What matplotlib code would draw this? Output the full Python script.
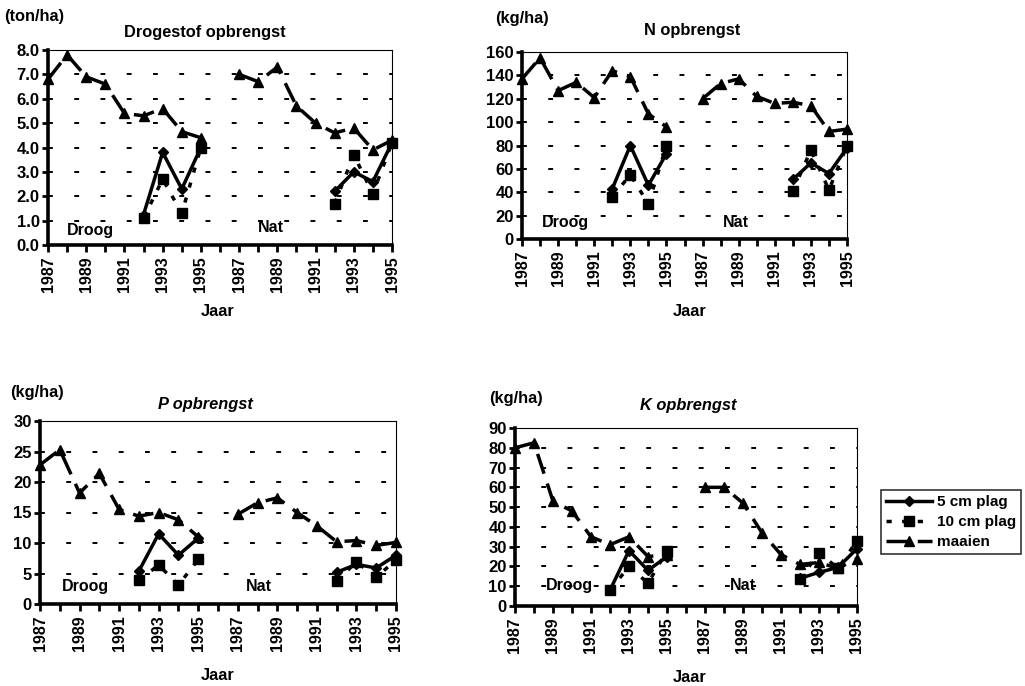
import numpy as np
import matplotlib
matplotlib.use('Agg')
import matplotlib.pyplot as plt
from matplotlib.lines import Line2D

plt.rcParams['font.family'] = ['Liberation Sans', 'DejaVu Sans']
plt.rcParams['font.weight'] = 'bold'

nan = np.nan
jaren = ['1987', '1988', '1989', '1990', '1991', '1992', '1993', '1994', '1995']

# droge stof (ton/ha)
ds_droog_maaien = [6.8, 7.8, 6.9, 6.6, 5.4, 5.3, 5.6, 4.65, 4.4]
ds_droog_5cm = [nan, nan, nan, nan, nan, 1.25, 3.8, 2.3, 4.0]
ds_droog_10cm = [nan, nan, nan, nan, nan, 1.1, 2.7, 1.3, 4.0]
ds_nat_maaien = [7.0, 6.7, 7.3, 5.7, 5.0, 4.6, 4.8, 3.9, 4.3]
ds_nat_5cm = [nan, nan, nan, nan, nan, 2.2, 3.0, 2.6, 4.2]
ds_nat_10cm = [nan, nan, nan, nan, nan, 1.7, 3.7, 2.1, 4.2]

# stikstof (kg/ha)
n_droog_maaien = [137, 155, 127, 134, 121, 144, 139, 107, 96]
n_droog_5cm = [nan, nan, nan, nan, nan, 43, 80, 46, 73]
n_droog_10cm = [nan, nan, nan, nan, nan, 36, 55, 30, 80]
n_nat_maaien = [120, 133, 137, 122, 116, 117, 114, 92, 94]
n_nat_5cm = [nan, nan, nan, nan, nan, 51, 65, 56, 78]
n_nat_10cm = [nan, nan, nan, nan, nan, 41, 76, 42, 80]

# fosfor (kg/ha)
p_droog_maaien = [22.8, 25.3, 18.2, 21.4, 15.5, 14.4, 15.0, 13.8, 11.0]
p_droog_5cm = [nan, nan, nan, nan, nan, 5.4, 11.5, 8.0, 10.8]
p_droog_10cm = [nan, nan, nan, nan, nan, 3.9, 6.4, 3.1, 7.3]
p_nat_maaien = [14.7, 16.6, 17.4, 15.0, 12.8, 10.2, 10.4, 9.6, 10.1]
p_nat_5cm = [nan, nan, nan, nan, nan, 5.2, 6.5, 5.9, 8.0]
p_nat_10cm = [nan, nan, nan, nan, nan, 3.8, 6.9, 4.4, 7.2]

# kalium (kg/ha)
k_droog_maaien = [80, 82.5, 53, 48, 35, 31, 35, 25, 26]
k_droog_5cm = [nan, nan, nan, nan, nan, 8, 28, 18, 25]
k_droog_10cm = [nan, nan, nan, nan, nan, 8, 20, 11.5, 28]
k_nat_maaien = [60, 60, 52, 37, 26, 21, 22, 19, 24]
k_nat_5cm = [nan, nan, nan, nan, nan, 14, 17, 19.5, 29]
k_nat_10cm = [nan, nan, nan, nan, nan, 13.5, 27, 19, 33]

W, H = 1025, 686
fig = plt.figure(figsize=(W / 100, H / 100), dpi=100)


def px_axes(l, t, r, b):
    return fig.add_axes([l / W, 1 - b / H, (r - l) / W, (b - t) / H])


def ftext(x, y, s, **kw):
    fig.text(x / W, 1 - y / H, s, ha='center', va='center', **kw)


# Droog 1987-1995, lege plek, Nat 1987-1995
labels = jaren + [''] + jaren
xpos = np.arange(len(labels))


def join(droog, nat):
    return np.array(list(droog) + [nan] + list(nat), dtype=float)


def paneel(ax, maaien, plag5, plag10, ymax, ystep, fmt, droog_xy, nat_xy):
    ax.plot(xpos, plag5, color='black', lw=2.5, marker='D', ms=5.5,
            clip_on=False, zorder=4)
    ax.plot(xpos, plag10, color='black', lw=2.5, ls=(0, (1.5, 3)), marker='s',
            ms=7, clip_on=False, zorder=4)
    ax.plot(xpos, maaien, color='black', lw=2.5, ls=(0, (6, 3)), marker='^',
            ms=7.5, clip_on=False, zorder=4)
    ax.set_xlim(0, len(labels) - 1)
    ax.set_ylim(0, ymax)
    ticks = np.arange(0, ymax + ystep / 2, ystep)
    ax.set_yticks(ticks)
    ax.set_yticklabels([fmt % t for t in ticks], fontsize=12, fontweight='bold')
    ax.set_xticks(xpos)
    ax.set_xticklabels([l if i % 2 == 0 else '' for i, l in enumerate(labels)],
                       rotation=90, fontsize=11.5, fontweight='bold')
    ax.yaxis.grid(True, color='black', lw=1.4, ls=(0, (2.5, 11)))
    ax.set_axisbelow(True)
    for s in ['left', 'bottom']:
        ax.spines[s].set_linewidth(2.6)
    for s in ['top', 'right']:
        ax.spines[s].set_linewidth(0.8)
    ax.tick_params(axis='y', length=4, width=2, pad=2)
    ax.tick_params(axis='x', length=5, width=2, pad=3)
    ax.text(droog_xy[0], droog_xy[1], 'Droog', fontsize=11.5, fontweight='bold',
            va='center')
    ax.text(nat_xy[0], nat_xy[1], 'Nat', fontsize=11.5, fontweight='bold',
            va='center')


ax1 = px_axes(48, 50, 392, 245)
paneel(ax1, join(ds_droog_maaien, ds_nat_maaien), join(ds_droog_5cm, ds_nat_5cm),
       join(ds_droog_10cm, ds_nat_10cm), 8.0, 1.0, '%.1f', (1.0, 0.6), (11.0, 0.7))

ax2 = px_axes(522, 52, 847, 239)
paneel(ax2, join(n_droog_maaien, n_nat_maaien), join(n_droog_5cm, n_nat_5cm),
       join(n_droog_10cm, n_nat_10cm), 160, 20, '%d', (1.1, 14), (11.1, 14))

ax3 = px_axes(40, 421, 396, 604)
paneel(ax3, join(p_droog_maaien, p_nat_maaien), join(p_droog_5cm, p_nat_5cm),
       join(p_droog_10cm, p_nat_10cm), 30, 5, '%d', (1.1, 2.8), (10.4, 2.8))

ax4 = px_axes(515, 428, 857, 606)
paneel(ax4, join(k_droog_maaien, k_nat_maaien), join(k_droog_5cm, k_nat_5cm),
       join(k_droog_10cm, k_nat_10cm), 90, 10, '%d', (1.6, 10.5), (11.3, 10.5))

# titels, eenheden en as-labels
fs = 11.8
ftext(205, 33, 'Drogestof opbrengst', fontsize=fs)
ftext(34, 17, '(ton/ha)', fontsize=fs)
ftext(692, 30, 'N opbrengst', fontsize=fs)
ftext(522, 18, '(kg/ha)', fontsize=fs)
ftext(205, 404, 'P opbrengst', fontsize=fs, style='italic')
ftext(37, 392, '(kg/ha)', fontsize=fs)
ftext(688, 405, 'K opbrengst', fontsize=fs, style='italic')
ftext(516, 399, '(kg/ha)', fontsize=fs)
ftext(218, 311, 'Jaar', fontsize=fs)
ftext(690, 311, 'Jaar', fontsize=fs)
ftext(218, 676, 'Jaar', fontsize=fs)
ftext(690, 678, 'Jaar', fontsize=fs)

handles = [
    Line2D([], [], color='black', lw=2.5, marker='D', ms=5.5),
    Line2D([], [], color='black', lw=2.5, ls=(0, (1.5, 3)), marker='s', ms=7),
    Line2D([], [], color='black', lw=2.5, ls=(0, (6, 3)), marker='^', ms=7.5),
]
leg = fig.legend(handles, ['5 cm plag', '10 cm plag', 'maaien'],
                 loc='center', bbox_to_anchor=(951 / W, 1 - 522 / H),
                 fontsize=11, frameon=True, fancybox=False, handlelength=3.0,
                 handletextpad=0.3, borderpad=0.35, labelspacing=0.4,
                 borderaxespad=0)
leg.get_frame().set_edgecolor('black')
leg.get_frame().set_linewidth(1.2)
for t in leg.get_texts():
    t.set_fontweight('bold')

fig.savefig('out.png', dpi=100)
